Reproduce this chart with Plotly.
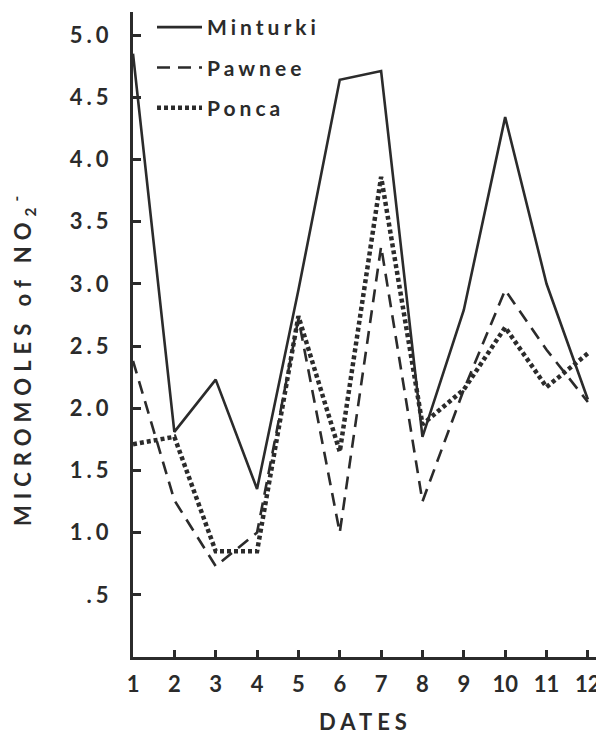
import plotly.graph_objects as go

dates = list(range(1, 13))
minturki = [4.85, 1.81, 2.23, 1.35, 2.95, 4.64, 4.71, 1.77, 2.79, 4.34, 3.0, 2.07]
pawnee = [2.38, 1.26, 0.73, 1.0, 2.72, 1.0, 3.30, 1.25, 2.15, 2.95, 2.47, 2.05]
ponca = [1.71, 1.77, 0.85, 0.85, 2.74, 1.65, 3.86, 1.87, 2.15, 2.65, 2.17, 2.44]

y_ticks = [0.5, 1.0, 1.5, 2.0, 2.5, 3.0, 3.5, 4.0, 4.5, 5.0]
y_labels = [".5", "1.0", "1.5", "2.0", "2.5", "3.0", "3.5", "4.0", "4.5", "5.0"]
x_labels = [str(d) for d in dates]

INK = "#2b2b2b"
FONT = "Lato, 'Open Sans', sans-serif"

# page body has an 8px margin; figure sized so it ends at the window edge
W, H = 596, 727
ML, MT, MB, MR = 125, 4, 78, 0
PW, PH = W - ML - MR, H - MT - MB


def ls(t, px):
    return f"<span style='letter-spacing:{px}px'>{t}</span>"


def px_to_paper(xp, yp):
    # xp, yp in window pixels
    return (xp - 8 - ML) / PW, 1 - (yp - 8 - MT) / PH


fig = go.Figure()
fig.add_trace(go.Scatter(x=dates, y=minturki, mode="lines", name=ls("Minturki", 4),
                         legendgroup="a", line=dict(color=INK, width=2.6)))
fig.add_trace(go.Scatter(x=dates, y=pawnee, mode="lines", name=ls("Pawnee", 4),
                         legendgroup="b", line=dict(color=INK, width=2.6, dash="13px,8px")))
fig.add_trace(go.Scatter(x=dates, y=ponca, mode="lines", name=ls("Ponca", 4),
                         legendgroup="c", line=dict(color=INK, width=4.5, dash="4px,3px")))

lx, ly = px_to_paper(152, 7)
fig.update_layout(
    width=W, height=H,
    margin=dict(l=ML, r=MR, t=MT, b=MB, autoexpand=False),
    paper_bgcolor="white", plot_bgcolor="white",
    font=dict(family=FONT, color=INK, size=21, weight=700),
    showlegend=True,
    legend=dict(x=lx, y=ly, xanchor="left", yanchor="top",
                bgcolor="rgba(0,0,0,0)", font=dict(size=21, color=INK, weight=700),
                tracegroupgap=10, itemwidth=45),
    xaxis=dict(range=[1, 12.39], tickmode="array", tickvals=dates,
               ticktext=x_labels,
               ticks="inside", ticklen=7, tickwidth=2.5, tickcolor=INK,
               showline=True, linecolor=INK, linewidth=3, showgrid=False, zeroline=False,
               ticklabelstandoff=6, tickfont=dict(size=22)),
    yaxis=dict(range=[0, 5.185], tickmode="array", tickvals=y_ticks,
               ticktext=[ls(t, 4) for t in y_labels],
               ticks="inside", ticklen=8, tickwidth=2.5, tickcolor=INK,
               showline=True, linecolor=INK, linewidth=3, showgrid=False, zeroline=False,
               ticklabelstandoff=13, tickfont=dict(size=22)),
)

ax, ay = px_to_paper(365, 721)
fig.add_annotation(text=ls("DATES", 5), xref="paper", yref="paper",
                   x=ax, y=ay, showarrow=False,
                   font=dict(size=22, color=INK, weight=700), xanchor="center", yanchor="middle")
tx, ty = px_to_paper(23, 358)
fig.add_annotation(text=ls("MICROMOLES of NO<sub>2</sub><sup>-</sup>", 6), xref="paper", yref="paper",
                   x=tx, y=ty, showarrow=False, textangle=-90,
                   font=dict(size=22, color=INK, weight=700), xanchor="center", yanchor="middle")

fig.write_html("out.html")
